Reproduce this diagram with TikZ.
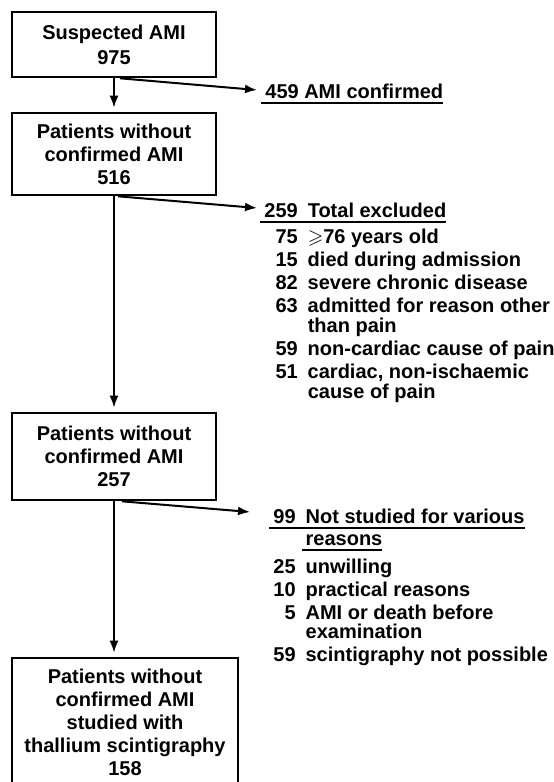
\documentclass[tikz,border=0pt]{standalone}
\usepackage{fontspec}
\setmainfont{Liberation Sans}
\usepackage{amssymb}
\usepackage{tikz}
\usetikzlibrary{positioning,arrows.meta}
\newcommand{\hdline}[1]{%
  % #1 the heading text of a side list (underlined with a thick rule)
  \leavevmode\setbox0\hbox{#1}%
  \kern-2pt\rlap{\smash{\rule[-2.8pt]{\dimexpr\wd0+2pt\relax}{0.9pt}}}%
  \kern2pt\box0%
}
\newlength{\numw}
\newcommand{\setnumw}[1]{%
  % #1 the widest number of a list (the lines of a node are grouped: set it globally)
  \settowidth{\numw}{#1}\global\numw=\numw
}
\newcommand{\nitem}[2]{%
  % #1 the number, right aligned in a column \numw wide (empty on a wrapped line)
  % #2 the text
  \makebox[\numw][r]{#1}\hspace{5pt}#2%
}

\begin{document}
\begin{tikzpicture}[x=0.5pt,y=-0.5pt,
    every node/.style={font=\fontsize{10}{11.5}\selectfont\bfseries},
    flowbox/.style={draw,line width=1.3pt,align=center,inner sep=0pt},
    flowarrow/.style={-{Latex[length=6pt,width=4.5pt]},line width=1pt},
    sidelist/.style={align=left,inner sep=0pt,anchor=north west}]
  \useasboundingbox (0,0) rectangle (553,782);
  \node[flowbox,minimum width=102pt,minimum height=32.5pt] (suspect) at (114,44.5)
    {Suspected AMI\\[1pt]975};
  \node[flowbox,minimum width=102pt,minimum height=41pt] (nocnf) at (114,154)
    {Patients without\\confirmed AMI\\516};
  \node[flowbox,minimum width=102pt,minimum height=43.5pt] (noexcl) at (114,456.5)
    {Patients without\\confirmed AMI\\257};
  \node[flowbox,minimum width=113pt,minimum height=64pt] (studied) at (125,722)
    {Patients without\\confirmed AMI\\studied with\\thallium scintigraphy\\158};
  % side lists
  \node[inner sep=0pt,anchor=base west] (confirmed) at (265,98) {\hdline{459 AMI confirmed}};
  \node[sidelist] (excluded) at (264,202.5) {\setnumw{259}%
    \hdline{\nitem{259}{Total excluded}}\\[1.5pt]
    \nitem{75}{$\geqslant$76 years old}\\
    \nitem{15}{died during admission}\\
    \nitem{82}{severe chronic disease}\\
    \nitem{63}{admitted for reason other}\\[-1.5pt]
    \nitem{}{than pain}\\
    \nitem{59}{non-cardiac cause of pain}\\
    \nitem{51}{cardiac, non-ischaemic}\\[-1.5pt]
    \nitem{}{cause of pain}};
  \node[sidelist] (notstudied) at (273,508.5) {\setnumw{99}%
    \hdline{\nitem{99}{Not studied for various}}\\[-0.5pt]
    \nitem{}{\hdline{reasons}}\\[2.5pt]
    \nitem{25}{unwilling}\\
    \nitem{10}{practical reasons}\\
    \nitem{5}{AMI or death before}\\[-2pt]
    \nitem{}{examination}\\
    \nitem{59}{scintigraphy not possible}};
  % arrows
  \draw[flowarrow,shorten >=2pt] (suspect) -- (nocnf);
  \draw[flowarrow,shorten >=2pt] (nocnf) -- (noexcl);
  \draw[flowarrow,shorten >=2pt] (noexcl.south) -- (noexcl.south |- studied.north);
  \draw[flowarrow] ([xshift=3pt]suspect.south) -- ([xshift=-4pt,yshift=4pt]confirmed.base west);
  \draw[flowarrow] ([xshift=2pt]nocnf.south) -- ([xshift=-3.5pt,yshift=-2.75pt]excluded.north west);
  \draw[flowarrow] ([xshift=4pt]noexcl.south) -- ([xshift=-11.5pt,yshift=-1.75pt]notstudied.north west);
\end{tikzpicture}
\end{document}
